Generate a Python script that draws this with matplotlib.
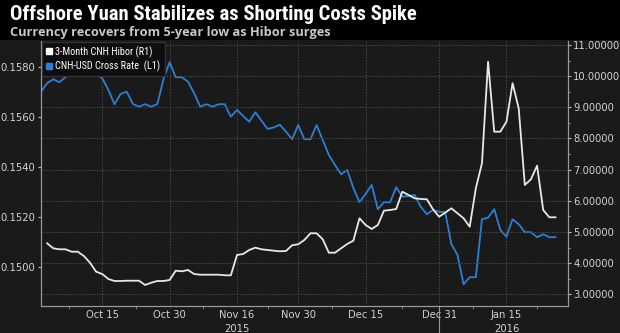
import numpy as np
import pandas as pd
import matplotlib
matplotlib.use("Agg")
import matplotlib.pyplot as plt
from matplotlib.lines import Line2D
from matplotlib.patches import Rectangle

# Business-day observations, Oct 1 2015 - Jan 27 2016
dates = pd.bdate_range("2015-10-01", "2016-01-27")

cnh_usd = [
    0.15700, 0.15734, 0.15750, 0.15738, 0.15758, 0.15770, 0.15770, 0.15811, 0.15770, 0.15770,
    0.15754, 0.15707, 0.15650, 0.15691, 0.15700, 0.15651, 0.15640, 0.15650, 0.15640, 0.15651,
    0.15750, 0.15818, 0.15758, 0.15758, 0.15740, 0.15694, 0.15640, 0.15650, 0.15640, 0.15650,
    0.15650, 0.15600, 0.15627, 0.15603, 0.15580, 0.15618, 0.15584, 0.15551, 0.15557, 0.15568,
    0.15540, 0.15510, 0.15567, 0.15510, 0.15510, 0.15567, 0.15507, 0.15447, 0.15407, 0.15370,
    0.15387, 0.15315, 0.15258, 0.15291, 0.15327, 0.15230, 0.15258, 0.15258, 0.15318, 0.15280,
    0.15283, 0.15287, 0.15240, 0.15210, 0.15227, 0.15220, 0.15218, 0.15091, 0.15047, 0.14930,
    0.14958, 0.14958, 0.15190, 0.15196, 0.15230, 0.15147, 0.15120, 0.15190, 0.15170, 0.15138,
    0.15138, 0.15118, 0.15130, 0.15118, 0.15118,
]

hibor_3m = [
    np.nan, 4.637, 4.476, 4.444, 4.444, 4.367, 4.367, 4.229, 4.014, 3.725,
    3.651, 3.491, 3.427, 3.427, 3.436, 3.436, 3.436, 3.298, 3.372, 3.427,
    3.427, 3.459, 3.757, 3.738, 3.780, 3.651, 3.629, 3.629, 3.629, 3.629,
    3.610, 3.610, 4.261, 4.293, 4.422, 4.496, 4.444, 4.422, 4.399, 4.380,
    4.390, 4.573, 4.605, 4.743, 4.958, 4.958, 4.765, 4.335, 4.335, 4.476,
    4.614, 4.720, 5.439, 5.224, 5.096, 5.224, 5.683, 5.705, 5.737, 6.293,
    6.187, 6.081, 6.058, 6.049, 5.728, 5.490, 5.619, 5.760, 5.600, 5.439,
    5.169, 6.402, 7.204, 10.465, 8.218, 8.218, 8.539, 9.772, 8.969, 6.508,
    6.691, 7.127, 5.705, 5.471, 5.471,
]

tick_dates = ["2015-10-15", "2015-10-30", "2015-11-16", "2015-11-30",
              "2015-12-15", "2015-12-31", "2016-01-15"]
tick_labels = ["Oct 15", "Oct 30", "Nov 16\n2015", "Nov 30",
               "Dec 15", "Dec 31", "Jan 15\n2016"]
left_ticks = [0.1500, 0.1520, 0.1540, 0.1560, 0.1580]
right_ticks = [3, 4, 5, 6, 7, 8, 9, 10, 11]

title = "Offshore Yuan Stabilizes as Shorting Costs Spike"
subtitle = "Currency recovers from 5-year low as Hibor surges"

BG = "#1a1a1a"
BLUE = "#2b7fd6"
WHITE = "#e8e8e8"
TXT = "#d2d2d2"
GRID = "#4a4a4a"
NARROW = ["Roboto Condensed", "Liberation Sans Narrow", "DejaVu Sans"]

plt.rcParams["font.family"] = ["DejaVu Sans"]

fig = plt.figure(figsize=(6.2, 3.33), dpi=100, facecolor=BG)
fig.patches.append(Rectangle((0, 1 - 40 / 333), 1, 40 / 333, transform=fig.transFigure,
                             facecolor="black", edgecolor="none", zorder=0))
fig.text(10 / 620, 1 - 20 / 333, title, color="white", fontsize=14.9, fontweight="bold",
         family=NARROW, va="baseline")
fig.text(10 / 620, 1 - 36 / 333, subtitle, color="#c8c8c8", fontsize=9.2, fontweight="bold",
         family=["Open Sans", "DejaVu Sans"], va="baseline")

ax = fig.add_axes([41 / 620, 1 - 306 / 333, (567.7 - 41) / 620, (306 - 41) / 333])
ax.set_facecolor(BG)
ax2 = ax.twinx()

x = np.arange(len(dates))
pos = {d: i for i, d in enumerate(dates)}
tick_pos = [pos[pd.Timestamp(d)] for d in tick_dates]

ax.plot(x, cnh_usd, color=BLUE, lw=1.3, zorder=3)
ax2.plot(x, hibor_3m, color=WHITE, lw=1.3, zorder=3)

ax.set_xlim(0, 86)
ax.set_ylim(0.148428, 0.159028)
ax2.set_ylim(2.6245, 11.128)

ax.set_xticks(tick_pos)
ax.set_xticklabels(tick_labels, fontsize=7.2, color=TXT, linespacing=1.45)
minor = [(a + b) / 2 for a, b in zip(tick_pos[:-1], tick_pos[1:])]
minor = [tick_pos[0] - (tick_pos[1] - tick_pos[0]) / 2] + minor + [tick_pos[-1] + 5]
ax.set_xticks(minor, minor=True)
ax.tick_params(axis="x", which="major", length=0, pad=3)
ax.tick_params(axis="x", which="minor", length=2.5, color="#888888")

ax.set_yticks(left_ticks)
ax.set_yticklabels([f"{v:.4f}" for v in left_ticks], fontsize=7.2, color=TXT)
ax.tick_params(axis="y", length=2.5, color="#bbbbbb", pad=1.5)

ax2.set_yticks(right_ticks)
ax2.set_yticklabels([f"{v:.5f}" for v in right_ticks], fontsize=7.2, color=TXT)
ax2.set_yticks([v + 0.5 for v in right_ticks[:-1]], minor=True)
ax2.tick_params(axis="y", which="major", length=2.5, color="#bbbbbb", pad=1.5)
ax2.tick_params(axis="y", which="minor", length=1.5, color="#bbbbbb")

ax.grid(axis="x", which="major", color=GRID, ls=(0, (1.5, 1.5)), lw=0.7)
ax2.grid(axis="y", which="major", color=GRID, ls=(0, (1.5, 1.5)), lw=0.7)
ax.set_axisbelow(True)

for a in (ax, ax2):
    a.spines["top"].set_visible(False)
    for side in ("left", "right", "bottom"):
        a.spines[side].set_color("#9a9a9a")
        a.spines[side].set_linewidth(0.8)

# year divider below the axis
ax.plot([pos[pd.Timestamp("2015-12-31")]] * 2, [0, -0.12], transform=ax.get_xaxis_transform(),
        color="#9a9a9a", lw=0.8, clip_on=False)

handles = [
    Line2D([], [], marker="s", ls="none", color="white", markersize=5),
    Line2D([], [], marker="s", ls="none", color=BLUE, markersize=5),
]
leg = ax2.legend(handles, ["3-Month CNH Hibor (R1)", "CNH-USD Cross Rate  (L1)"],
                 loc="upper left", bbox_to_anchor=(0, 1), frameon=True,
                 prop={"family": NARROW, "size": 7.4},
                 handlelength=0.6, handletextpad=0.3, borderpad=0.4, labelspacing=0.25,
                 borderaxespad=0.1, fancybox=False)
leg.get_frame().set_facecolor("#0e0e0e")
leg.get_frame().set_edgecolor("#333333")
leg.get_frame().set_alpha(1)
for t in leg.get_texts():
    t.set_color("white")

fig.savefig("out.png", dpi=100, facecolor=BG)
